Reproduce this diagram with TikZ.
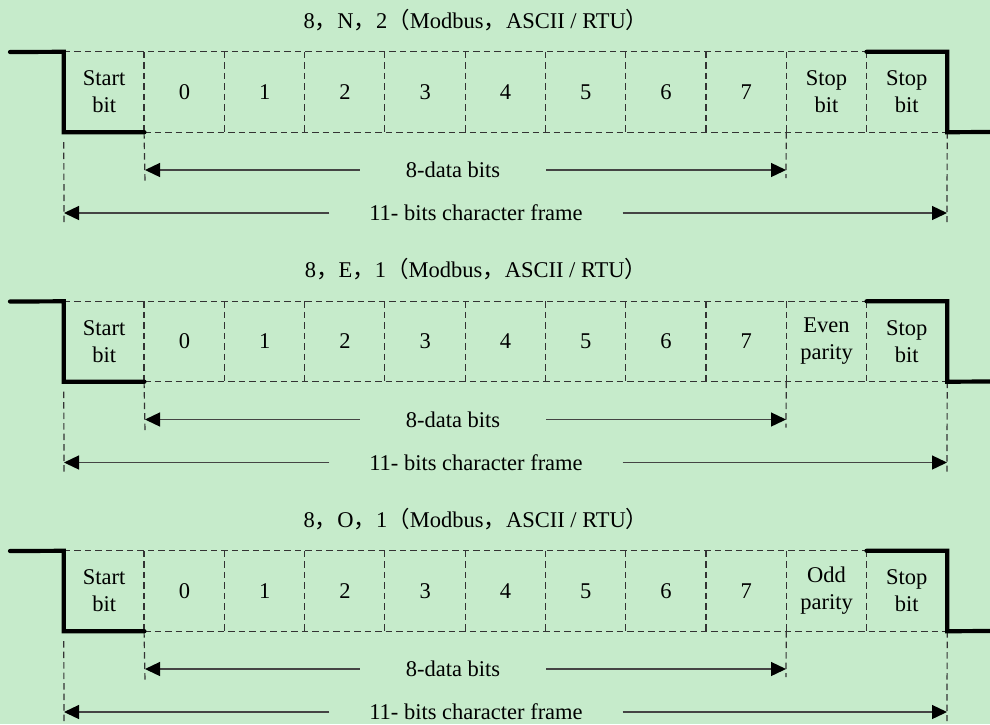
\documentclass[tikz,border=0pt]{standalone}
\usepackage{fontspec}
\setmainfont{Liberation Serif}
\newfontfamily\cjkfont{Noto Sans CJK SC}
\usetikzlibrary{arrows.meta}
\definecolor{frameBg}{HTML}{C6EBCB}
\definecolor{frameDash}{HTML}{333333}
\definecolor{frameRule}{HTML}{444444}
\newcommand{\fw}[1]{{\cjkfont #1}}
\tikzset{
  framefig/.style={
    x=1pt, y=-1pt,
    every node/.append style={font=\fontsize{22.5}{27}\selectfont},
  },
  bitcell/.style={minimum width=80.27pt, minimum height=80pt, inner sep=0pt, align=center},
  cellline/.style={draw=frameDash, line width=1.2pt, dash pattern=on 6.5pt off 4pt},
  sigline/.style={draw=black, line width=4.2pt, line cap=round, line join=miter},
  spanarrow/.style={draw=frameRule, line width=1.3pt, -{Triangle[length=15pt, width=14pt, color=black]}},
  spanlabel/.style={inner sep=0pt, minimum height=20pt},
}
\begin{document}
\begin{tikzpicture}[framefig]
  \useasboundingbox[fill=frameBg] (0,0) rectangle (990,724);
  \foreach \r/\code/\ninth in {0/{N\fw{，}2}/{Stop\\bit},
                               1/{E\fw{，}1}/{Even\\parity},
                               2/{O\fw{，}1}/{Odd\\parity}} {
    \pgfmathsetmacro\ftop{52+249.5*\r}
    \node (Title\r) at (476,\ftop-32) {8\fw{，}\code\fw{（}Modbus\fw{，}ASCII / RTU\fw{）}};
    % eleven bit cells, start to stop
    \foreach \k/\txt in {0/{Start\\bit},1/0,2/1,3/2,4/3,5/4,6/5,7/6,8/7,9/\ninth,10/{Stop\\bit}}
      \node[bitcell] (Cell\r-\k) at (64+80.27*\k+40.135,\ftop+40) {\txt};
    \draw[cellline] (Cell\r-0.north west) -- (Cell\r-10.north west);
    \draw[cellline] (Cell\r-1.south west) -- (Cell\r-10.south east);
    \foreach \k in {1,...,10}
      \draw[cellline] (Cell\r-\k.north west) -- (Cell\r-\k.south west);
    % extension lines down to the span arrows
    \coordinate (FootA\r) at (64,\ftop+173);
    \coordinate (FootB\r) at (145,\ftop+130);
    \coordinate (FootC\r) at (786,\ftop+126);
    \coordinate (FootD\r) at (947,\ftop+170);
    \draw[cellline] ([yshift=-10pt]Cell\r-0.south west) -- (FootA\r);
    \draw[cellline] (Cell\r-1.south west) -- (FootB\r);
    \draw[cellline] (Cell\r-9.south west) -- (FootC\r);
    \draw[cellline] (Cell\r-10.south east) -- (FootD\r);
    % line level
    \coordinate (IdleL\r) at (10,\ftop);
    \coordinate (IdleR\r) at (992,\ftop+80);
    \draw[sigline] (IdleL\r) -- (Cell\r-0.north west) -- (Cell\r-0.south west) -- (Cell\r-0.south east);
    \draw[sigline] (Cell\r-10.north west) -- (Cell\r-10.north east) -- (Cell\r-10.south east) -- (IdleR\r);
    % spans
    \node[spanlabel, minimum width=186pt] (Data\r) at (453,\ftop+118) {8-data bits};
    \coordinate (DataL\r) at (145,\ftop+118);
    \coordinate (DataR\r) at (786,\ftop+118);
    \draw[spanarrow] (Data\r.west) -- (DataL\r);
    \draw[spanarrow] (Data\r.east) -- (DataR\r);
    \node[spanlabel, minimum width=293pt] (Frame\r) at (476,\ftop+161) {11- bits character frame};
    \coordinate (FrameL\r) at (64,\ftop+161);
    \coordinate (FrameR\r) at (947,\ftop+161);
    \draw[spanarrow] (Frame\r.west) -- (FrameL\r);
    \draw[spanarrow] (Frame\r.east) -- (FrameR\r);
  }
\end{tikzpicture}
\end{document}
